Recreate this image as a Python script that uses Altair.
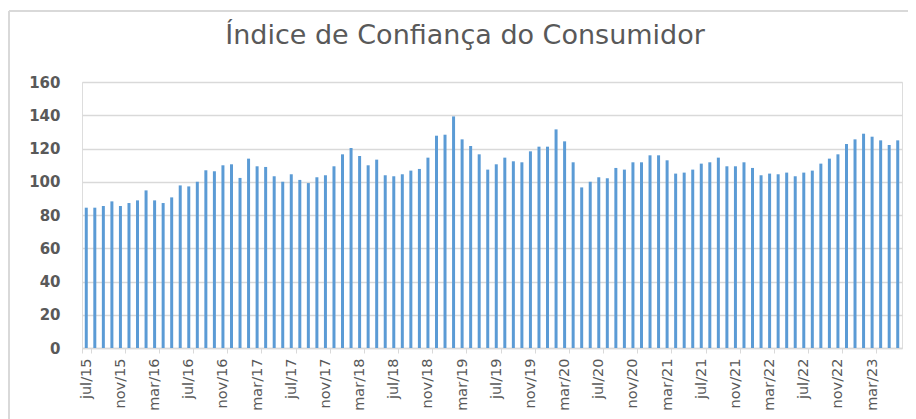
import altair as alt
import pandas as pd

month_names = ["jan", "fev", "mar", "abr", "mai", "jun", "jul", "ago", "set", "out", "nov", "dez"]
start_year = 2015
start_month = 7  # julho
n_months = 96

values = [
    84.4, 84.4, 85.4, 88.2, 85.4, 87.2, 88.8, 94.8, 88.8, 87.2, 90.6, 97.8,
    97.2, 100.0, 106.9, 106.3, 109.9, 110.5, 102.3, 113.9, 109.3, 108.9,
    103.3, 100.0, 104.5, 101.1, 99.2, 102.7, 103.9, 109.3, 116.5, 120.3,
    115.5, 109.9, 113.3, 103.9, 103.3, 104.5, 106.7, 107.7, 114.5, 127.7,
    128.3, 139.3, 125.5, 121.5,
    116.5, 107.3, 110.5, 114.5, 112.3, 111.7, 118.3, 121.1, 121.1, 131.5,
    124.3, 111.7, 96.6, 100.0, 102.7, 102.1, 108.3, 107.3, 111.7, 111.7,
    115.9, 115.9, 112.9,
    104.9, 105.5, 107.3, 110.9, 111.7, 114.5, 109.3, 109.3, 111.7, 108.3,
    103.9, 104.9, 104.5, 105.5, 103.3, 105.5, 106.7, 110.9, 113.9, 116.5,
    122.7, 125.5, 128.9, 127.1, 124.9, 122.1, 124.9,
]

months = []
for i in range(n_months):
    m = (start_month - 1 + i) % 12
    y = start_year + (start_month - 1 + i) // 12
    months.append(f"{month_names[m]}/{str(y)[2:]}")

tick_labels = months[::4]
y_ticks = [0, 20, 40, 60, 80, 100, 120, 140, 160]

df = pd.DataFrame({"mes": months, "indice": values})

W, H = 820, 266
GREY = "#595959"
GRID = "#D9D9D9"

bars = alt.Chart(df).mark_bar(size=3, color="#5B9BD5").encode(
    x=alt.X(
        "mes:N",
        sort=months,
        scale=alt.Scale(paddingInner=0, paddingOuter=0),
        axis=alt.Axis(
            title=None,
            values=tick_labels,
            labelAngle=270,
            labelAlign="right",
            labelBaseline="middle",
            labelFont="DejaVu Sans",
            labelFontSize=14.5,
            labelColor=GREY,
            labelPadding=5,
            tickBand="extent",
            tickColor=GRID,
            tickSize=5,
            domainColor=GRID,
            domainWidth=1.5,
            grid=False,
        ),
    ),
    y=alt.Y(
        "indice:Q",
        scale=alt.Scale(domain=[0, 160], nice=False),
        axis=alt.Axis(
            title=None,
            values=y_ticks,
            labelFont="DejaVu Sans",
            labelFontSize=15,
            labelFontWeight="bold",
            labelColor=GREY,
            labelPadding=22,
            ticks=False,
            domain=False,
            gridColor=GRID,
            gridWidth=1.5,
        ),
    ),
)

one = pd.DataFrame({"a": [0]})
border_left = alt.Chart(one).mark_rule(color=GRID, strokeWidth=2).encode(
    x=alt.value(-73), y=alt.value(-71), y2=alt.value(H + 90),
)
border_top = alt.Chart(one).mark_rule(color=GRID, strokeWidth=2).encode(
    x=alt.value(-73), x2=alt.value(W + 60), y=alt.value(-71),
)

chart = alt.layer(border_left, border_top, bars).properties(
    width=W,
    height=H,
    autosize=alt.AutoSizeParams(type="none"),
    padding={"left": 74, "top": 74, "right": 6, "bottom": 71},
    title=alt.TitleParams(
        text="Índice de Confiança do Consumidor",
        font="DejaVu Sans",
        fontSize=27,
        fontWeight="normal",
        color=GREY,
        anchor="middle",
        dx=-27,
        baseline="alphabetic",
        offset=-61,
    ),
).configure_view(stroke=None).configure(background="white")

chart.save("out.html", embed_options={"renderer": "svg", "actions": False})
